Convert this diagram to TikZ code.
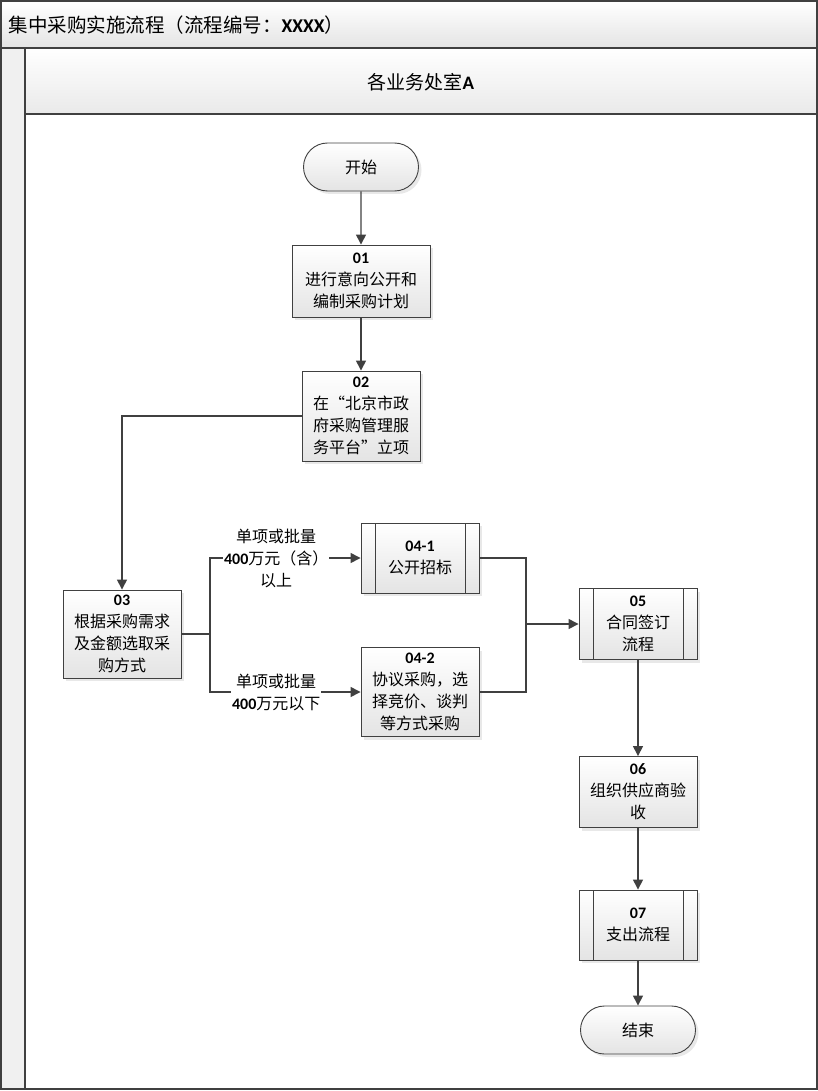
\documentclass[tikz,border=0pt]{standalone}
\usepackage{fontspec}
\setmainfont{Noto Sans CJK SC}
\newfontfamily\latinfont{Carlito}
\newcommand{\nb}[1]{{\latinfont\bfseries #1}}
\usepackage{xcolor}
\usetikzlibrary{arrows.meta,shapes.misc,positioning,shadows}

\definecolor{linegray}{HTML}{404040}
\definecolor{boxgray}{HTML}{E4E4E4}

\tikzset{
  frame/.style={draw=linegray, line width=1.2pt},
  box/.style={draw=linegray, line width=0.9pt, top color=white, bottom color=boxgray,
    minimum width=118pt, minimum height=71pt, inner sep=1pt, align=center,
    font=\fontsize{16}{22}\selectfont,
    drop shadow={shadow xshift=3pt, shadow yshift=-3pt, fill=black!18}},
  subproc/.style={box, path picture={
    \draw[linegray, line width=0.9pt]
      ([xshift=14pt]path picture bounding box.north west) -- ([xshift=14pt]path picture bounding box.south west)
      ([xshift=-14pt]path picture bounding box.north east) -- ([xshift=-14pt]path picture bounding box.south east);}},
  term/.style={box, rounded rectangle, minimum width=117pt, minimum height=48pt},
  arr/.style={draw=linegray, line width=1.4pt, -{Triangle[length=10pt,width=10pt]}},
  conn/.style={draw=linegray, line width=1.4pt},
  lab/.style={fill=white, align=center, inner sep=1pt, font=\fontsize{16}{22}\selectfont}
}

\begin{document}
\begin{tikzpicture}[x=1pt, y=-1pt]
    \useasboundingbox (0,0) rectangle (818,1091);

    % 泳道框架
    \shade[top color=white, bottom color=boxgray] (1,1) rectangle (817,48);
    \shade[top color=white, bottom color=boxgray!80] (25,48) rectangle (817,114);
    \fill[black!6] (1,48) rectangle (25,1089);
    \draw[frame] (1,1) rectangle (817,1089);
    \draw[frame] (1,48) -- (817,48);
    \draw[frame] (25,48) -- (25,1089);
    \draw[frame] (25,114) -- (817,114);
    \node[anchor=west, font=\fontsize{19.5}{22}\selectfont] (title) at (5,25)
        {集中采购实施流程（流程编号：\nb{XXXX}）};
    \node[font=\fontsize{19}{22}\selectfont] (lane) at (421,82) {各业务处室\nb{A}};

    % 流程节点
    \node[term] (start) at (361,167) {开始};
    \node[box, minimum width=138pt, minimum height=72pt] (n01) at (361,281)
        {\nb{01}\\进行意向公开和\\编制采购计划};
    \node[box, minimum height=90pt] (n02) at (361,416)
        {\nb{02}\\在“北京市政\\府采购管理服\\务平台”立项};
    \node[box, minimum height=88pt] (n03) at (122,634)
        {\nb{03}\\根据采购需求\\及金额选取采\\购方式};
    \node[subproc, minimum height=70pt] (n041) at (420,558) {\nb{04-1}\\公开招标};
    \node[box, minimum height=89pt] (n042) at (420,692)
        {\nb{04-2}\\协议采购，选\\择竞价、谈判\\等方式采购};
    \node[subproc] (n05) at (638,624) {\nb{05}\\合同签订\\流程};
    \node[box] (n06) at (638,792) {\nb{06}\\组织供应商验\\收};
    \node[subproc, minimum height=70pt] (n07) at (638,925) {\nb{07}\\支出流程};
    \node[term] (end) at (638,1030) {结束};

    % 连线
    \coordinate (split) at (210,634);
    \coordinate (join) at (526,624);
    \draw[arr] (start) -- (n01);
    \draw[arr] (n01) -- (n02);
    \draw[arr] (n02.west) -| (n03.north);
    \draw[conn] (n03.east) -- (split);
    \draw[arr] (split) |- node[lab, pos=0.72] {单项或批量\\\nb{400}万元（含）\\以上} (n041.west);
    \draw[arr] (split) |- node[lab, pos=0.72] {单项或批量\\\nb{400}万元以下} (n042.west);
    \draw[conn] (n041.east) -| (join);
    \draw[conn] (n042.east) -| (join);
    \draw[arr] (join) -- (n05.west);
    \draw[arr] (n05) -- (n06);
    \draw[arr] (n06) -- (n07);
    \draw[arr] (n07) -- (end);
\end{tikzpicture}
\end{document}
